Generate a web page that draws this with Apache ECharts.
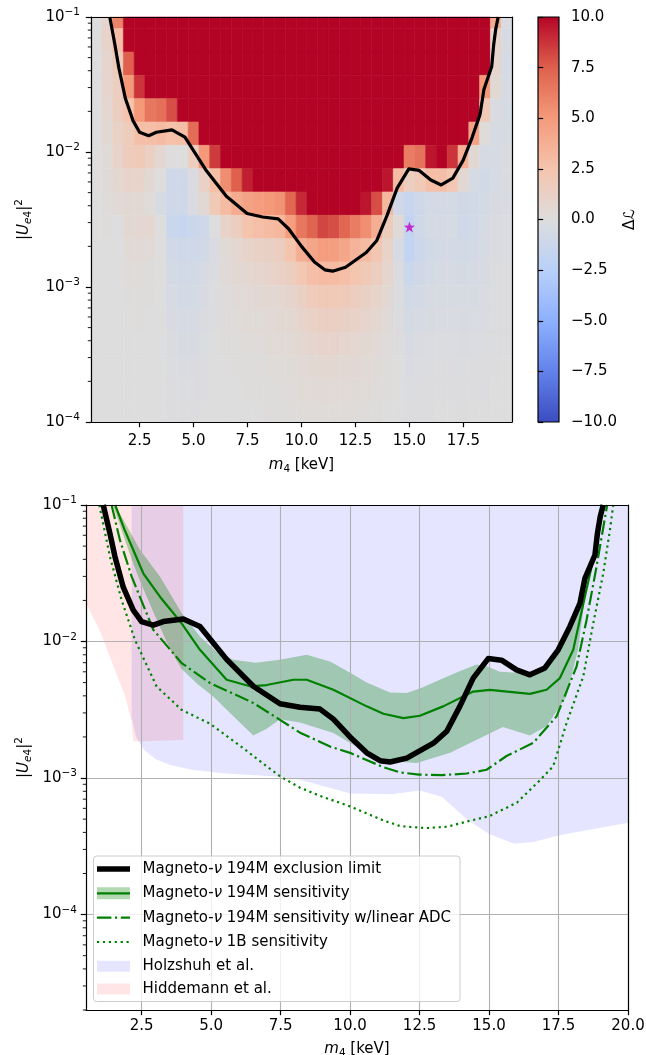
<!DOCTYPE html>
<html><head><meta charset="utf-8">
<script src="https://cdn.jsdelivr.net/npm/echarts@6.0.0/dist/echarts.min.js"></script>
<style>html,body{margin:0;padding:0;background:#fff}#c{width:646px;height:1055px}</style>
</head><body><div id="c"></div>
<script>
// ---------------- data ----------------
// top panel: likelihood scan grid
const massCenters = [0.5,1.0,1.5,2.0,2.5,3.0,3.5,4.0,4.5,5.0,5.5,6.0,6.5,7.0,7.5,8.0,8.5,9.0,9.5,10.0,10.5,11.0,11.5,12.0,12.5,13.0,13.5,14.0,14.5,15.0,15.5,16.0,16.5,17.0,17.5,18.0,18.5,19.0,19.5];
const mixCenters = [0.1,0.06717,0.04512,0.03031,0.02036,0.01367,0.009185,0.006170,0.004144,0.002784,0.001870,0.001256,0.0008437,0.0005667,0.0003807,0.0002557,0.0001718,0.0001154];
const deltaL = [
 [0,0.8,6,10,10,10,10,10,10,10, 10,10,10,10,10,10,10,10,10,10, 10,10,10,10,10,10,10,10,10,10, 10,10,10,10,10,10,10,4,-0.3],
 [0,1,2.8,10,10,10,10,10,10,10, 10,10,10,10,10,10,10,10,10,10, 10,10,10,10,10,10,10,10,10,10, 10,10,10,10,10,10,10,1,-0.4],
 [0,0.8,1.8,7.5,10,10,10,10,10,10, 10,10,10,10,10,10,10,10,10,10, 10,10,10,10,10,10,10,10,10,10, 10,10,10,10,10,10,10,0.8,-0.5],
 [0,0.8,1.5,5,8.7,10,10,10,10,10, 10,10,10,10,10,10,10,10,10,10, 10,10,10,10,10,10,10,10,10,10, 10,10,10,10,10,10,5,0.5,-0.5],
 [0,0.7,1.5,2.5,5,6.5,6.8,8,10,10, 10,10,10,10,10,10,10,10,10,10, 10,10,10,10,10,10,10,10,10,10, 10,10,10,10,10,10,2,-0.3,-0.5],
 [0,0.5,1.2,1.7,2.8,2.8,3,2.7,2.8,7, 10,10,10,10,10,10,10,10,10,10, 10,10,10,10,10,10,10,10,10,10, 10,10,10,10,10,4.5,0.2,-0.5,-0.4],
 [0,0.3,1,1.7,1.9,1.4,0.6,0,0,1.5, 5,8.5,10,10,10,10,10,10,10,10, 10,10,10,10,10,10,10,10,10,6.3, 6.7,9.5,10,8.7,3.7,0.5,-0.5,-0.5,-0.3],
 [0,0.3,0.6,1,1,0.5,0,-1,-0.9,-0.3, 1.2,2.8,5.5,7.5,9.3,10,10,10,10,10, 10,10,10,10,10,10,10,9.5,3,1.5, 2,2.8,2.8,2.2,0.6,-0.5,-0.8,-0.5,-0.3],
 [0,0.2,0.4,0.5,0.5,0.2,-0.5,-1,-1,-0.3, 0.5,2,3,4,4.5,4.8,5,5.3,7.2,9, 10,10,10,10,10,9.5,8,3.2,-1,-1.5, -1,-0.7,-0.7,-0.6,-0.9,-0.8,-0.6,-0.4,-0.3],
 [0,0.1,0,0.5,0.7,0.7,0,-1.3,-1.5,-1.3, -1,0,1,1.5,2.5,2.8,3,3.3,4.8,6.5, 7.3,8.2,8,7.2,6.3,5.5,3.8,1.7,0.3,-1.7, -1,-0.6,-0.6,-0.5,-1,-0.8,-0.5,-0.3,-0.2],
 [0,0,0,0.3,0.4,0.3,0,-0.8,-1,-1, -0.8,-0.3,0.3,0.7,1,1.2,1.3,1.5,2.5,3.8, 4.3,4.8,4.7,4.3,3.5,3,2.3,1,-0.5,-1.8, -1.2,-0.8,-0.7,-0.7,-0.8,-0.7,-0.5,-0.3,-0.2],
 [0,0,0,0.2,0.2,0.1,0,-0.6,-0.8,-0.8, -0.5,-0.2,0.3,0.5,0.7,0.8,1,1.2,1.5,2.2, 2.8,3,3,2.8,2.4,2,1.5,0.8,-0.2,-1.2, -0.9,-0.6,-0.5,-0.5,-0.6,-0.5,-0.4,-0.2,-0.1],
 [0,0,0,0.1,0.1,0.1,0,-0.5,-0.7,-0.6, -0.4,-0.1,0.1,0.3,0.4,0.5,0.6,0.7,0.9,1.3, 1.8,2,2,1.9,1.6,1.3,1,0.5,-0.2,-0.8, -0.7,-0.5,-0.4,-0.4,-0.5,-0.4,-0.3,-0.2,-0.1],
 [0,0,0,0,0.1,0,0,-0.4,-0.5,-0.5, -0.3,-0.1,0.1,0.2,0.3,0.3,0.4,0.5,0.6,0.9, 1.2,1.4,1.4,1.3,1.1,0.9,0.6,0.3,-0.1,-0.6, -0.5,-0.4,-0.3,-0.3,-0.4,-0.3,-0.3,-0.2,-0.1],
 [0,0,0,0,0,0,0,-0.3,-0.4,-0.4, -0.2,0,0.1,0.1,0.2,0.2,0.3,0.3,0.4,0.6, 0.8,0.9,0.9,0.8,0.7,0.6,0.4,0.2,-0.1,-0.4, -0.3,-0.2,-0.2,-0.2,-0.3,-0.2,-0.2,-0.1,-0.1],
 [0,0,0,0,0,0,0,-0.2,-0.3,-0.3, -0.1,0,0,0.1,0.1,0.1,0.2,0.2,0.3,0.4, 0.5,0.6,0.6,0.5,0.5,0.4,0.3,0.1,0,-0.3, -0.2,-0.2,-0.1,-0.1,-0.2,-0.1,-0.1,-0.1,0],
 [0,0,0,0,0,0,0,-0.1,-0.2,-0.2, -0.1,0,0,0,0.1,0.1,0.1,0.1,0.2,0.3, 0.3,0.4,0.4,0.3,0.3,0.3,0.2,0.1,0,-0.2, -0.1,-0.1,-0.1,-0.1,-0.1,-0.1,-0.1,0,0],
 [0,0,0,0,0,0,0,-0.1,-0.1,-0.1, 0,0,0,0,0,0,0.1,0.1,0.1,0.2, 0.2,0.2,0.2,0.2,0.2,0.1,0.1,0,0,-0.1, -0.1,-0.1,0,0,-0.1,0,0,0,0]
];
const bestFit = [15.0, 0.002784];
const cbarMin = -10, cbarMax = 10;

// exclusion limit (contour, same curve in both panels)
const exclM = [1.12,1.36,1.54,1.84,2.2,2.5,2.92,3.28,4.0,4.6,5.56,6.52,7.48,8.2,8.92,9.4,10.0,10.6,11.08,11.44,12.04,13.0,13.48,13.95,14.43,14.97,15.45,15.99,16.47,17.01,17.49,17.91,18.27,18.45,18.81,18.9,19.0,19.11];
const exclU = [0.1,0.062,0.042,0.025,0.017,0.014,0.0132,0.014,0.0146,0.0129,0.0074,0.0047,0.0035,0.0033,0.0032,0.0027,0.0020,0.00153,0.00134,0.00131,0.0014,0.0018,0.0022,0.00335,0.0054,0.0075,0.0073,0.0062,0.0057,0.0064,0.0087,0.0129,0.019,0.029,0.043,0.062,0.082,0.1];
// 194M sensitivity (median + band)
const sensM = [1.55,1.9,2.56,3.16,3.94,4.6,5.56,6.4,7.0,7.96,8.44,9.4,10.6,11.2,11.92,12.51,13.35,14.43,15.03,16.47,17.07,17.55,18.03,18.45,18.75,19.05];
const sensU = [0.1,0.065,0.0316,0.0213,0.0136,0.0087,0.00525,0.0047,0.0048,0.00525,0.00525,0.00443,0.00335,0.00296,0.00275,0.00286,0.00335,0.0043,0.00443,0.00414,0.00443,0.0054,0.0087,0.0214,0.04,0.1];
const bandHiM = [1.55,2.44,3.16,3.94,4.6,5.2,5.8,6.6,7.48,8.44,9.3,10.0,10.6,11.44,12.04,12.6,13.23,13.9,14.55,14.91,15.39,16.0,16.5,17.0,17.55,18.03,18.45];
const bandHiU = [0.1,0.047,0.030,0.0162,0.0109,0.0084,0.00735,0.0070,0.00735,0.0080,0.0071,0.0059,0.0050,0.00424,0.0042,0.0046,0.00525,0.0060,0.0068,0.0066,0.0060,0.0059,0.0058,0.0064,0.0092,0.0129,0.022];
const bandLoM = [1.47,2.14,2.5,3.04,3.5,3.94,4.5,5.08,5.8,6.52,7.0,7.48,8.2,9.4,10.6,11.44,12.4,13.6,14.67,15.5,16.47,17.07,17.79,18.2,18.45];
const bandLoU = [0.1,0.040,0.026,0.0145,0.0090,0.0063,0.0049,0.00396,0.00283,0.00205,0.0023,0.0027,0.00255,0.00214,0.00153,0.00133,0.00129,0.00153,0.00196,0.00237,0.00205,0.0024,0.00398,0.0087,0.021];
// 194M sensitivity with linear ADC
const adcM = [1.42,1.72,2.14,2.92,3.94,4.96,6.52,7.48,8.2,9.28,10.0,11.2,11.8,12.48,13.3,14.2,14.91,15.63,16.59,17.43,18.15,18.51,18.87,19.25];
const adcU = [0.1,0.0555,0.030,0.0122,0.00695,0.00497,0.00355,0.00267,0.00215,0.0017,0.00153,0.0012,0.0011,0.00106,0.00105,0.00108,0.00115,0.00145,0.00181,0.00283,0.00656,0.0144,0.0355,0.1];
// 1B sensitivity
const oneBM = [0.98,1.36,1.78,2.26,3.04,3.94,4.96,6.0,7.0,7.48,8.2,8.92,10.0,11.19,11.8,12.7,13.5,14.2,15.0,16.0,16.8,17.31,17.79,18.39,18.75,19.11,19.35,19.47];
const oneBU = [0.1,0.0419,0.0202,0.0103,0.00469,0.00316,0.0025,0.00175,0.00122,0.00103,0.00085,0.00074,0.00062,0.00049,0.000445,0.00043,0.00044,0.00048,0.000525,0.00066,0.00095,0.00122,0.00253,0.00555,0.0136,0.0316,0.0656,0.1];
// excluded regions (lower boundaries; upper edge is the top of the plot)
const holzM = [2.14,2.3,2.6,3.0,3.5,4.3,5.5,7.5,8.2,10.0,11.5,12.5,13.3,14.2,15.0,15.9,16.6,17.5,20.0];
const holzU = [0.0028,0.0020,0.0016,0.00138,0.00125,0.00115,0.00108,0.00102,0.00097,0.00077,0.00076,0.00081,0.00073,0.00050,0.00039,0.00033,0.00034,0.00038,0.00047];
const hidM = [0.5,1.0,1.5,1.9,2.14,2.2,4.0];
const hidU = [0.019,0.012,0.0065,0.0040,0.0026,0.00185,0.0019];

// axis ticks
const xTicksTop = [2.5,5,7.5,10,12.5,15,17.5];
const xTicksBottom = [2.5,5,7.5,10,12.5,15,17.5,20];
const yTicksTop = [1e-4,1e-3,1e-2,1e-1];
const yTicksBottom = [1e-4,1e-3,1e-2,1e-1];
const legendLabels = ['Magneto-{i|ν} 194M exclusion limit','Magneto-{i|ν} 194M sensitivity','Magneto-{i|ν} 194M sensitivity w/linear ADC','Magneto-{i|ν} 1B sensitivity','Holzshuh et al.','Hiddemann et al.'];

// ---------------- helpers ----------------
function minorTicks(e0, e1, lo) {
  const out = [];
  for (let e = e0; e <= e1; e++) for (let m = 2; m <= 9; m++) {
    const v = Number((m * Math.pow(10, e)).toPrecision(3));
    if (v >= lo) out.push(v);
  }
  return out;
}
const yMinorTop = minorTicks(-4, -2, 1e-4);
const yMinorBottom = minorTicks(-5, -2, 2e-5);
const pairs = (xs, ys) => xs.map((x, i) => [x, ys[i]]);

const FONT = 'DejaVu Sans';
const BLACK = '#000';
const AXL = {color: BLACK, width: 1.2};
const coolwarm = ['#3b4cc0','#6282ea','#8db0fe','#b8d0f9','#dddddd','#f5c4ad','#f49a7b','#de604d','#b40426'];
const GREEN = '#008000';

function powLabel(v) {
  const e = Math.round(Math.log10(v));
  return '{b|10}{s|' + (e < 0 ? '\u2212' : '') + Math.abs(e) + '}';
}
const powRich = {
  b: {fontSize: 15, fontFamily: FONT, color: BLACK, lineHeight: 20, verticalAlign: 'middle'},
  s: {fontSize: 10.5, fontFamily: FONT, color: BLACK, lineHeight: 9, verticalAlign: 'top'}
};
const nameRich = {
  n: {fontSize: 15, fontFamily: FONT, color: BLACK, lineHeight: 20, verticalAlign: 'middle'},
  i: {fontSize: 15, fontFamily: FONT, fontStyle: 'italic', color: BLACK, lineHeight: 20, verticalAlign: 'middle'},
  si: {fontSize: 10.5, fontFamily: FONT, fontStyle: 'italic', color: BLACK, lineHeight: 8, verticalAlign: 'bottom'},
  sn: {fontSize: 10.5, fontFamily: FONT, color: BLACK, lineHeight: 8, verticalAlign: 'bottom'},
  sup: {fontSize: 10.5, fontFamily: FONT, color: BLACK, lineHeight: 9, verticalAlign: 'top'}
};
const uName = '{n||}{i|U}{si|e}{sn|4}{n||}{sup|2}';
const mName = '{i|m}{sn|4}{n| [keV]}';
const tickFmt = v => (v < 0 ? '\u2212' : '') + Math.abs(v).toFixed(1);
const labelBase = {color: BLACK, fontSize: 15, fontFamily: FONT};

// heatmap cells
const heatData = [];
deltaL.forEach((row, r) => row.forEach((v, c) => heatData.push([massCenters[c], mixCenters[r], v, c, r])));
function colEdges(c) {
  const a = massCenters, n = a.length;
  const l = c === 0 ? a[0] - (a[1] - a[0]) / 2 : (a[c - 1] + a[c]) / 2;
  const r = c === n - 1 ? a[n - 1] + (a[n - 1] - a[n - 2]) / 2 : (a[c] + a[c + 1]) / 2;
  return [l, r];
}
function rowEdges(k) {
  const a = mixCenters, n = a.length;
  const t = k === 0 ? a[0] * Math.sqrt(a[0] / a[1]) : Math.sqrt(a[k - 1] * a[k]);
  const b = k === n - 1 ? a[n - 1] * Math.sqrt(a[n - 1] / a[n - 2]) : Math.sqrt(a[k] * a[k + 1]);
  return [t, b];
}
function clipTo(params, shape) {
  const cs = params.coordSys;
  return echarts.graphic.clipRectByRect(shape, {x: cs.x, y: cs.y, width: cs.width, height: cs.height});
}

const Y_TOP = 0.1;
function regionPolygon(xs, ys, fill) {
  return function (params, api) {
    const pts = [api.coord([xs[0], Y_TOP])];
    for (let i = 0; i < xs.length; i++) pts.push(api.coord([xs[i], ys[i]]));
    pts.push(api.coord([xs[xs.length - 1], Y_TOP]));
    return {type: 'polygon', shape: {points: pts}, style: {fill: fill}};
  };
}
function bandPolygon(params, api) {
  const pts = [];
  for (let i = 0; i < bandHiM.length; i++) pts.push(api.coord([bandHiM[i], bandHiU[i]]));
  for (let i = bandLoM.length - 1; i >= 0; i--) pts.push(api.coord([bandLoM[i], bandLoU[i]]));
  return {type: 'polygon', shape: {points: pts}, style: {fill: 'rgba(0,128,0,0.3)'}};
}
// minor log ticks on the left spine, placed through the axis scale
function minorTickRender(xAt) {
  return function (params, api) {
    const p = api.coord([xAt, api.value(1)]);
    return {type: 'line', shape: {x1: p[0] - 3.2, y1: p[1], x2: p[0], y2: p[1]}, style: {stroke: BLACK, lineWidth: 0.9}};
  };
}

// ---------------- chart ----------------
const chart = echarts.init(document.getElementById('c'), null, {renderer: 'canvas', width: 646, height: 1055});

const legendRowsY = [869, 893.3, 917.7, 942, 966.3, 989];
const HX0 = 97, HX1 = 130, TX = 142.5;
const legendEls = [
  {type: 'rect', shape: {x: 93.5, y: 856, width: 366.5, height: 145.5, r: 3}, style: {fill: 'rgba(255,255,255,0.8)', stroke: '#cccccc', lineWidth: 1}, z: 100},
  {type: 'line', shape: {x1: HX0, y1: legendRowsY[0], x2: HX1, y2: legendRowsY[0]}, style: {stroke: BLACK, lineWidth: 5.5}, z: 101},
  {type: 'rect', shape: {x: HX0, y: legendRowsY[1] - 6, width: HX1 - HX0, height: 12}, style: {fill: 'rgba(0,128,0,0.3)'}, z: 101},
  {type: 'line', shape: {x1: HX0, y1: legendRowsY[1], x2: HX1, y2: legendRowsY[1]}, style: {stroke: GREEN, lineWidth: 2.2}, z: 102},
  {type: 'line', shape: {x1: HX0, y1: legendRowsY[2], x2: HX1, y2: legendRowsY[2]}, style: {stroke: GREEN, lineWidth: 2.2, lineDash: [14.4, 3.6, 2.2, 3.6]}, z: 101},
  {type: 'line', shape: {x1: HX0, y1: legendRowsY[3], x2: HX1, y2: legendRowsY[3]}, style: {stroke: GREEN, lineWidth: 2.2, lineDash: [2.2, 3.7]}, z: 101},
  {type: 'rect', shape: {x: HX0, y: legendRowsY[4] - 5.5, width: HX1 - HX0, height: 11}, style: {fill: 'rgba(0,0,255,0.1)'}, z: 101},
  {type: 'rect', shape: {x: HX0, y: legendRowsY[5] - 5.5, width: HX1 - HX0, height: 11}, style: {fill: 'rgba(255,0,0,0.1)'}, z: 101}
];
legendLabels.forEach((t, i) => legendEls.push({
  type: 'text', x: TX, y: legendRowsY[i], z: 103,
  style: {text: t, fill: BLACK, fontSize: 15, fontFamily: FONT, align: 'left', verticalAlign: 'middle', textAlign: 'left', textVerticalAlign: 'middle',
    rich: {i: {fontStyle: 'italic', fontSize: 15, fontFamily: FONT, fill: BLACK, color: BLACK}}}
}));

const frameAxis = (grid, pos, min, max, type) => ({
  gridIndex: grid, type: type, position: pos, min: min, max: max, z: 5,
  axisLine: {show: true, lineStyle: AXL}, axisTick: {show: false}, axisLabel: {show: false}, splitLine: {show: false}
});

const option = {
  animation: false,
  backgroundColor: '#ffffff',
  textStyle: {fontFamily: FONT},
  grid: [
    {left: 91, top: 17, width: 421, height: 405, containLabel: false, outerBoundsMode: 'none'},
    {left: 538, top: 17, width: 21, height: 405, containLabel: false, outerBoundsMode: 'none'},
    {left: 86, top: 505, width: 542, height: 505, containLabel: false, outerBoundsMode: 'none'}
  ],
  visualMap: [{type: 'continuous', show: false, seriesIndex: 0, dimension: 2, min: cbarMin, max: cbarMax, inRange: {color: coolwarm}}],
  xAxis: [
    {gridIndex: 0, type: 'value', min: 0.25, max: 19.75, z: 5,
     axisLine: {show: true, onZero: false, lineStyle: AXL},
     axisTick: {show: true, customValues: xTicksTop, length: 5.2, lineStyle: AXL},
     axisLabel: Object.assign({customValues: xTicksTop, formatter: tickFmt, margin: 12}, labelBase),
     splitLine: {show: false},
     name: mName, nameLocation: 'middle', nameGap: 33, nameMoveOverlap: false, nameTextStyle: {rich: nameRich}},
    frameAxis(0, 'top', 0.25, 19.75, 'value'),
    {gridIndex: 1, type: 'value', min: 0, max: 1, show: false},
    {gridIndex: 2, type: 'value', min: 0.5, max: 20, z: 1,
     axisLine: {show: true, onZero: false, lineStyle: AXL},
     axisTick: {show: true, customValues: xTicksBottom, length: 5.2, lineStyle: AXL},
     axisLabel: Object.assign({customValues: xTicksBottom, formatter: tickFmt, margin: 9}, labelBase),
     splitLine: {show: true, lineStyle: {color: '#b0b0b0', width: 1.1}},
     name: mName, nameLocation: 'middle', nameGap: 29, nameMoveOverlap: false, nameTextStyle: {rich: nameRich}},
    frameAxis(2, 'top', 0.5, 20, 'value')
  ],
  yAxis: [
    {gridIndex: 0, type: 'log', min: 1e-4, max: 0.1, position: 'left', z: 5,
     axisLine: {show: true, onZero: false, lineStyle: AXL},
     axisTick: {show: true, customValues: yTicksTop, length: 5.2, lineStyle: AXL},
     axisLabel: Object.assign({customValues: yTicksTop, formatter: powLabel, rich: powRich, margin: 11}, labelBase),
     splitLine: {show: false}, minorTick: {show: false},
     name: uName, nameLocation: 'middle', nameGap: 57, nameRotate: 90, nameMoveOverlap: false, nameTextStyle: {rich: nameRich}},
    frameAxis(0, 'right', 1e-4, 0.1, 'log'),
    {gridIndex: 1, type: 'value', min: cbarMin, max: cbarMax, interval: 2.5, position: 'right', z: 5,
     axisLine: {show: false}, axisTick: {show: true, length: 5.2, lineStyle: AXL},
     axisLabel: Object.assign({formatter: tickFmt, margin: 12}, labelBase),
     splitLine: {show: false},
     name: 'Δℒ', nameLocation: 'middle', nameGap: 64, nameRotate: 90, nameMoveOverlap: false,
     nameTextStyle: {fontSize: 15, fontFamily: FONT, color: BLACK}},
    {gridIndex: 2, type: 'log', min: 2e-5, max: 0.1, position: 'left', z: 1,
     axisLine: {show: true, onZero: false, lineStyle: AXL},
     axisTick: {show: true, customValues: yTicksBottom, length: 5.2, lineStyle: AXL},
     axisLabel: Object.assign({customValues: yTicksBottom, formatter: powLabel, rich: powRich, margin: 9}, labelBase),
     splitLine: {show: true, lineStyle: {color: '#b0b0b0', width: 1.1}},
     name: uName, nameLocation: 'middle', nameGap: 52, nameRotate: 90, nameMoveOverlap: false, nameTextStyle: {rich: nameRich}},
    frameAxis(2, 'right', 2e-5, 0.1, 'log')
  ],
  series: [
    // 0 heatmap
    {type: 'custom', name: 'ΔL', xAxisIndex: 0, yAxisIndex: 0, z: 1, data: heatData,
     encode: {x: 0, y: 1},
     renderItem: function (params, api) {
       const c = api.value(3), r = api.value(4);
       const xe = colEdges(c), ye = rowEdges(r);
       const p0 = api.coord([xe[0], ye[0]]), p1 = api.coord([xe[1], ye[1]]);
       const rect = clipTo(params, {x: p0[0], y: p0[1], width: p1[0] - p0[0], height: p1[1] - p0[1]});
       if (!rect) return;
       const col = api.visual('color');
       return {type: 'rect', shape: rect, style: {fill: col, stroke: col, lineWidth: 0.6}};
     }},
    // 1 contour
    {type: 'line', name: 'exclusion contour', xAxisIndex: 0, yAxisIndex: 0, z: 3, data: pairs(exclM, exclU),
     symbol: 'none', showSymbol: false, lineStyle: {color: BLACK, width: 3.2, join: 'round'}},
    // 2 best fit
    {type: 'scatter', name: 'best fit', xAxisIndex: 0, yAxisIndex: 0, z: 4, data: [bestFit],
     symbol: 'path://M0,-10 L2.35,-3.24 L9.51,-3.09 L3.8,1.24 L5.88,8.09 L0,4 L-5.88,8.09 L-3.8,1.24 L-9.51,-3.09 L-2.35,-3.24 Z',
     symbolSize: 11, itemStyle: {color: '#bf00bf'}},
    // 3 colorbar
    {type: 'custom', name: 'colorbar', xAxisIndex: 2, yAxisIndex: 2, z: 2, data: [[0.5, 0]],
     renderItem: function (params, api) {
       const p0 = api.coord([0, cbarMax]), p1 = api.coord([1, cbarMin]);
       const stops = coolwarm.slice().reverse().map((c, i) => ({offset: i / (coolwarm.length - 1), color: c}));
       return {type: 'rect', shape: {x: p0[0], y: p0[1], width: p1[0] - p0[0], height: p1[1] - p0[1]},
               style: {fill: new echarts.graphic.LinearGradient(0, 0, 0, 1, stops), stroke: BLACK, lineWidth: 1.2}};
     }},
    // 4 Holzshuh
    {type: 'custom', name: 'Holzshuh et al.', xAxisIndex: 3, yAxisIndex: 3, z: 0, clip: true,
     data: [[holzM[0], holzU[0]]], renderItem: regionPolygon(holzM, holzU, 'rgba(0,0,255,0.1)')},
    // 5 Hiddemann
    {type: 'custom', name: 'Hiddemann et al.', xAxisIndex: 3, yAxisIndex: 3, z: 0, clip: true,
     data: [[hidM[0], hidU[0]]], renderItem: regionPolygon(hidM, hidU, 'rgba(255,0,0,0.1)')},
    // 6 band
    {type: 'custom', name: 'Magneto-ν 194M sensitivity band', xAxisIndex: 3, yAxisIndex: 3, z: 0, clip: true,
     data: [[bandHiM[0], bandHiU[0]]], renderItem: bandPolygon},
    // 7 median sensitivity
    {type: 'line', name: 'Magneto-ν 194M sensitivity', xAxisIndex: 3, yAxisIndex: 3, z: 3, data: pairs(sensM, sensU),
     symbol: 'none', showSymbol: false, lineStyle: {color: GREEN, width: 2.2, join: 'round'}},
    // 8 linear ADC
    {type: 'line', name: 'Magneto-ν 194M sensitivity w/linear ADC', xAxisIndex: 3, yAxisIndex: 3, z: 3, data: pairs(adcM, adcU),
     symbol: 'none', showSymbol: false, lineStyle: {color: GREEN, width: 2.2, type: [14.4, 3.6, 2.2, 3.6], cap: 'butt', join: 'round'}},
    // 9 1B
    {type: 'line', name: 'Magneto-ν 1B sensitivity', xAxisIndex: 3, yAxisIndex: 3, z: 3, data: pairs(oneBM, oneBU),
     symbol: 'none', showSymbol: false, lineStyle: {color: GREEN, width: 2.2, type: [2.2, 3.7], cap: 'butt', join: 'round'}},
    // 10 exclusion limit
    {type: 'line', name: 'Magneto-ν 194M exclusion limit', xAxisIndex: 3, yAxisIndex: 3, z: 4, data: pairs(exclM, exclU),
     symbol: 'none', showSymbol: false, lineStyle: {color: BLACK, width: 5.5, join: 'round'}},
    // 11 minor ticks (top panel)
    {type: 'custom', name: 'minor ticks top', xAxisIndex: 0, yAxisIndex: 0, z: 6, clip: false, silent: true,
     data: yMinorTop.map(v => [0.25, v]), renderItem: minorTickRender(0.25)},
    // 12 minor ticks (bottom panel)
    {type: 'custom', name: 'minor ticks bottom', xAxisIndex: 3, yAxisIndex: 3, z: 6, clip: false, silent: true,
     data: yMinorBottom.map(v => [0.5, v]), renderItem: minorTickRender(0.5)}
  ],
  graphic: {elements: legendEls}
};
chart.setOption(option);
</script></body></html>
